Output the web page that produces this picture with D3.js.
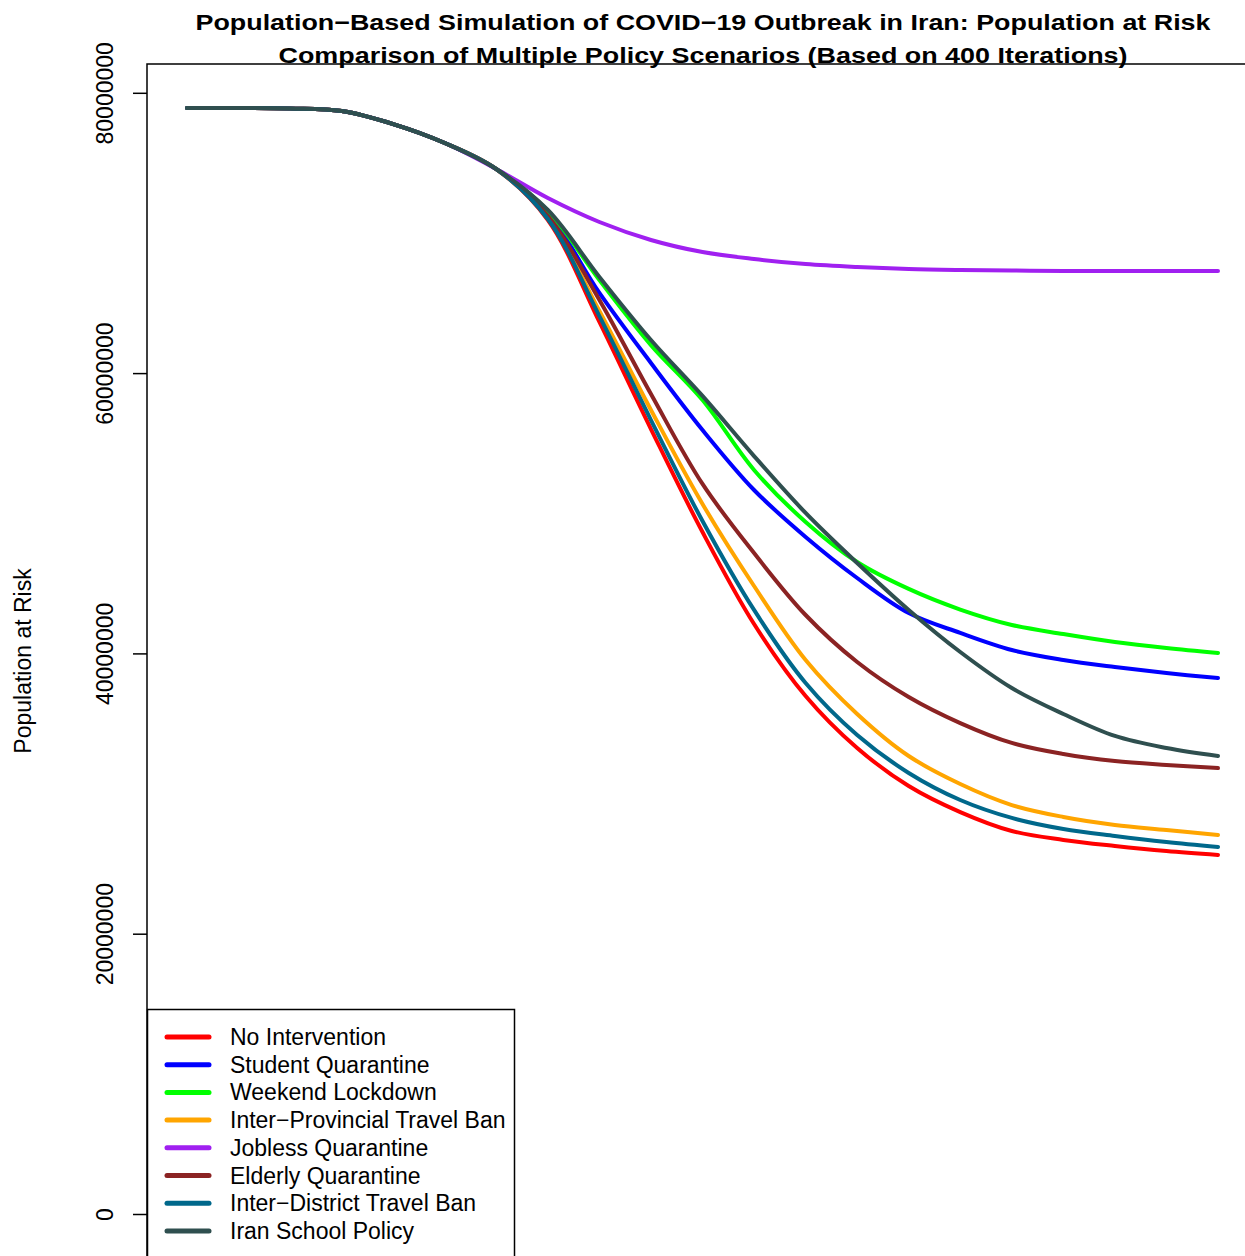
<!DOCTYPE html>
<html>
<head>
<meta charset="utf-8">
<script src="https://cdn.jsdelivr.net/npm/d3@7"></script>
<style>
  body { margin: 0; background: #fff; }
  svg { display: block; }
  text { font-family: "Liberation Sans", Arial, sans-serif; fill: #000; }
</style>
</head>
<body>
<div id="chart"></div>
<script>
// time steps (days) of the simulation
const days = [0, 5, 10, 15, 20, 25, 30, 35, 40, 45, 50, 55, 60, 65, 70, 75, 80, 85, 90, 95, 100];

// population at risk, millions
const common = [78.92, 78.92, 78.88, 78.70, 77.77, 76.42, 74.56];
const noIntervention     = common.concat([70.92, 63.65, 56.01, 48.66, 42.10, 36.96, 33.25, 30.54, 28.68, 27.33, 26.69, 26.26, 25.90, 25.62]);
const studentQuarantine  = common.concat([71.42, 65.72, 60.72, 55.94, 51.66, 48.31, 45.38, 42.88, 41.46, 40.24, 39.53, 39.03, 38.60, 38.24]);
const weekendLockdown    = common.concat([71.57, 66.64, 62.00, 58.08, 53.09, 49.38, 46.52, 44.60, 43.13, 42.03, 41.38, 40.81, 40.38, 40.03]);
const provincialBan      = common.concat([71.07, 64.43, 57.37, 50.66, 44.81, 39.53, 35.68, 32.68, 30.68, 29.18, 28.33, 27.76, 27.40, 27.04]);
const joblessQuarantine  = common.concat([72.49, 70.78, 69.50, 68.64, 68.14, 67.78, 67.57, 67.43, 67.36, 67.32, 67.29, 67.29, 67.29, 67.29]);
const elderlyQuarantine  = common.concat([71.21, 65.22, 58.51, 52.09, 47.16, 42.74, 39.39, 36.89, 35.03, 33.61, 32.82, 32.32, 32.04, 31.82]);
const districtBan        = common.concat([71.00, 64.07, 56.65, 49.45, 43.10, 37.89, 34.18, 31.47, 29.54, 28.26, 27.47, 26.97, 26.54, 26.19]);
const schoolPolicy       = common.concat([71.64, 66.86, 62.36, 58.37, 54.08, 50.02, 46.45, 43.10, 40.10, 37.53, 35.68, 34.11, 33.25, 32.68]);

const scenarioNames = ["No Intervention", "Student Quarantine", "Weekend Lockdown", "Inter\u2212Provincial Travel Ban",
  "Jobless Quarantine", "Elderly Quarantine", "Inter\u2212District Travel Ban", "Iran School Policy"];
const scenarioValues = [noIntervention, studentQuarantine, weekendLockdown, provincialBan,
  joblessQuarantine, elderlyQuarantine, districtBan, schoolPolicy];
const scenarioColors = ["#ff0000", "#0000ff", "#00ff00", "#ffa500", "#a020f0", "#8b2323", "#00688b", "#2f4f4f"];

const yTicks = [0, 20000000, 40000000, 60000000, 80000000];

const W = 1245, H = 1256;
const svg = d3.select("#chart").append("svg").attr("width", W).attr("height", H);

const x = d3.scaleLinear().domain([0, 100]).range([187, 1218]);
const y = d3.scaleLinear().domain([0, 80000000]).range([1214, 92.8]);

// plot box (extends past the window like the original)
svg.append("rect")
  .attr("x", 147).attr("y", 64)
  .attr("width", 1112).attr("height", 1194)
  .attr("fill", "none").attr("stroke", "#000").attr("stroke-width", 1.5);

// y axis
const yAxis = svg.append("g")
  .attr("transform", "translate(147,0)")
  .call(d3.axisLeft(y).tickValues(yTicks).tickFormat(d3.format("d")).tickSize(14));
yAxis.select(".domain").remove();
yAxis.selectAll(".tick line").attr("stroke", "#000").attr("stroke-width", 1.5);
yAxis.selectAll(".tick text")
  .attr("x", null).attr("dy", null)
  .attr("transform", "translate(-34,0) rotate(-90)")
  .style("text-anchor", "middle")
  .style("font-size", "23px")
  .style("font-family", "'Liberation Sans', Arial, sans-serif")
  .attr("fill", "#000");

svg.append("text")
  .attr("transform", "translate(31,661) rotate(-90)")
  .style("text-anchor", "middle")
  .style("font-size", "23px")
  .text("Population at Risk");

// titles
svg.append("text")
  .attr("x", 703).attr("y", 30)
  .style("text-anchor", "middle")
  .style("font-size", "22px").style("font-weight", "bold")
  .attr("textLength", 1015).attr("lengthAdjust", "spacingAndGlyphs")
  .text("Population\u2212Based Simulation of COVID\u221219 Outbreak in Iran: Population at Risk");
svg.append("text")
  .attr("x", 703).attr("y", 63)
  .style("text-anchor", "middle")
  .style("font-size", "22px").style("font-weight", "bold")
  .attr("textLength", 849).attr("lengthAdjust", "spacingAndGlyphs")
  .text("Comparison of Multiple Policy Scenarios (Based on 400 Iterations)");

// lines
const line = d3.line()
  .x((d, i) => x(days[i]))
  .y(d => y(d * 1e6))
  .curve(d3.curveCatmullRom.alpha(0.5));

svg.append("g").selectAll("path")
  .data(scenarioValues)
  .join("path")
  .attr("d", line)
  .attr("fill", "none")
  .attr("stroke", (d, i) => scenarioColors[i])
  .attr("stroke-width", 4)
  .attr("stroke-linejoin", "round")
  .attr("stroke-linecap", "round");

// legend
const legend = svg.append("g");
legend.append("rect")
  .attr("x", 147.5).attr("y", 1009.5)
  .attr("width", 367).attr("height", 300)
  .attr("fill", "#fff").attr("stroke", "#000").attr("stroke-width", 1.5);

const rows = legend.selectAll("g.row")
  .data(scenarioNames)
  .join("g")
  .attr("class", "row")
  .attr("transform", (d, i) => "translate(0," + (1037 + i * 27.7) + ")");
rows.append("line")
  .attr("x1", 167).attr("x2", 209)
  .attr("stroke", (d, i) => scenarioColors[i])
  .attr("stroke-width", 5)
  .attr("stroke-linecap", "round");
rows.append("text")
  .attr("x", 230).attr("y", 8)
  .style("font-size", "23px")
  .text(d => d);
</script>
</body>
</html>
